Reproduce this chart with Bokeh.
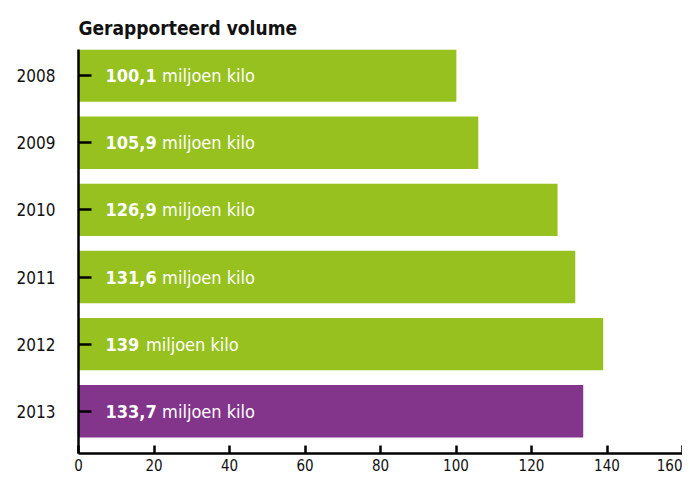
from bokeh.plotting import figure
from bokeh.models import Range1d, ColumnDataSource, FixedTicker
from bokeh.core.properties import value
from bokeh.embed import file_html
from bokeh.resources import INLINE

title_text = "Gerapporteerd volume"
years = ["2008", "2009", "2010", "2011", "2012", "2013"]
volumes = [100.1, 105.9, 126.9, 131.6, 139.0, 133.7]
volume_labels = ["100,1", "105,9", "126,9", "131,6", "139", "133,7"]
unit_label = "miljoen kilo"
x_ticks = [0, 20, 40, 60, 80, 100, 120, 140, 160]

GREEN = "#96C11E"
PURPLE = "#82358A"
FONT = "DejaVu Sans Condensed"

idx = list(range(len(years)))
colors = [GREEN] * (len(years) - 1) + [PURPLE]

def text_width(s, size):
    w = 0.0
    for ch in s:
        if ch.isdigit():
            w += 0.60
        elif ch == ",":
            w += 0.30
        else:
            w += 0.55
    return w * size

num_size = 18
num_x0 = 27
num_off = [num_x0] * len(years)
unit_off = [num_x0 + text_width(s, num_size) + 8 for s in volume_labels]

src = ColumnDataSource(dict(
    y=idx, v=volumes, c=colors, lab=volume_labels,
    unit=[unit_label] * len(years), zero=[0] * len(years),
    noff=num_off, uoff=unit_off,
))

p = figure(width=682, height=473, output_backend="svg", toolbar_location=None,
           x_range=Range1d(0, 160), y_range=Range1d(5.63, -0.39),
           min_border_left=78, min_border_right=0, min_border_top=49,
           min_border_bottom=0, frame_width=604)

p.hbar(y="y", left=0, right="v", height=0.78, fill_color="c", line_color=None, source=src)

p.text(x="zero", y="y", text="lab", x_offset="noff", source=src,
       text_color="white", text_font=value(FONT), text_font_style="bold",
       text_font_size=f"{num_size}px", text_baseline="middle", text_align="left")
p.text(x="zero", y="y", text="unit", x_offset="uoff", source=src,
       text_color="white", text_font=value(FONT), text_font_style="normal",
       text_font_size=f"{num_size}px", text_baseline="middle", text_align="left")

p.title.text = title_text
p.title.text_font = FONT
p.title.text_font_style = "bold"
p.title.text_font_size = "19px"
p.title.align = "left"
p.title.offset = 0
p.title.standoff = 21
p.title.text_color = "#111111"

p.xgrid.visible = False
p.ygrid.visible = False
p.outline_line_color = None

for ax in (p.xaxis[0], p.yaxis[0]):
    ax.axis_line_width = 2.5
    ax.axis_line_color = "black"
    ax.major_tick_line_width = 2.5
    ax.major_tick_line_color = "black"
    ax.major_tick_out = 0
    ax.minor_tick_line_color = None
    ax.major_label_text_font = FONT
    ax.major_label_text_color = "#111111"

p.xaxis.ticker = FixedTicker(ticks=x_ticks)
p.xaxis.major_tick_in = 8
p.xaxis.major_label_text_font_size = "15px"
p.xaxis.major_label_standoff = 5

p.yaxis.ticker = FixedTicker(ticks=idx)
p.yaxis.major_label_overrides = {i: y for i, y in zip(idx, years)}
p.yaxis.major_tick_in = 13
p.yaxis.major_label_text_font_size = "17px"
p.yaxis.major_label_standoff = 23

open("out.html", "w").write(file_html(p, INLINE))
